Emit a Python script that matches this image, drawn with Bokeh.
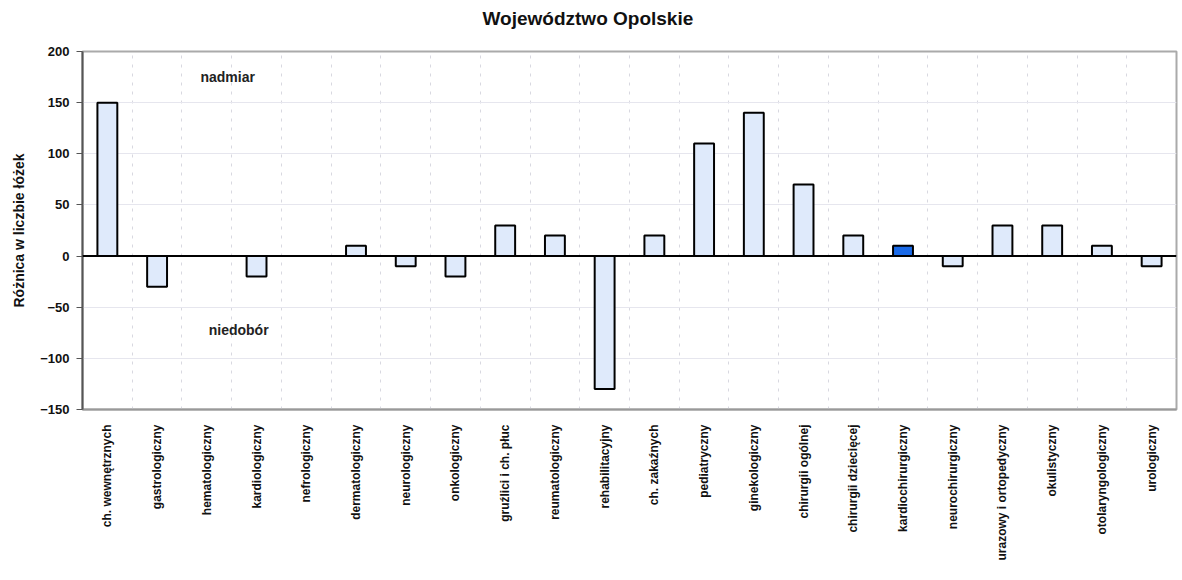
from bokeh.plotting import figure
from bokeh.models import FixedTicker, Range1d, Span, Label, ColumnDataSource, Title
from bokeh.embed import file_html
from bokeh.resources import INLINE
from math import pi

title = "Województwo Opolskie"
categories = ["ch. wewnętrznych", "gastrologiczny", "hematologiczny", "kardiologiczny",
              "nefrologiczny", "dermatologiczny", "neurologiczny", "onkologiczny",
              "gruźlici i ch. płuc", "reumatologiczny", "rehabilitacyjny", "ch. zakaźnych",
              "pediatryczny", "ginekologiczny", "chirurgii ogólnej", "chirurgii dziecięcej",
              "kardiochirurgiczny", "neurochirurgiczny", "urazowy i ortopedyczny",
              "okulistyczny", "otolaryngologiczny", "urologiczny"]
values = [150, -30, 0, -20, 0, 10, -10, -20, 30, 20, -130, 20, 110, 140, 70, 20, 10, -10, 30, 30, 10, -10]
highlight = "kardiochirurgiczny"
y_ticks = [-150, -100, -50, 0, 50, 100, 150, 200]

LIGHT = "#dfeafb"
DARK = "#1a6ae8"
FONT = "Liberation Sans"

xs = list(range(1, len(categories) + 1))
colors = [DARK if c == highlight else LIGHT for c in categories]
src = ColumnDataSource(dict(x=xs, top=values, color=colors))

p = figure(frame_width=1094, frame_height=358, output_backend="svg", toolbar_location=None,
           x_range=Range1d(0.5, len(categories) + 0.5), y_range=Range1d(-150, 200),
           min_border_left=82, min_border_top=0, min_border_right=4, min_border_bottom=10)

# spacer between the title and the plot frame (first item "above" sits next to the frame)
p.add_layout(Title(text=" ", text_font=FONT, text_font_size="12px", standoff=1), "above")
p.add_layout(Title(text=title, align="left", offset=400, standoff=11, text_font=FONT,
                   text_font_size="19px", text_font_style="bold", text_color="#111111"), "above")

p.vbar(x="x", top="top", bottom=0, width=0.40, source=src, fill_color="color",
       line_color="black", line_width=2)

p.add_layout(Span(location=0, dimension="width", line_color="black", line_width=2))

# axes
p.yaxis.ticker = FixedTicker(ticks=y_ticks)
p.yaxis.axis_label = "Różnica w liczbie łóżek"
p.yaxis.axis_label_text_font = FONT
p.yaxis.axis_label_text_font_size = "14px"
p.yaxis.axis_label_text_font_style = "bold"
p.yaxis.axis_label_text_color = "#111111"
p.yaxis.axis_label_standoff = 10
p.yaxis.major_label_standoff = 7
p.yaxis.major_label_text_font = FONT
p.yaxis.major_label_text_font_size = "13px"
p.yaxis.major_label_text_font_style = "bold"
p.yaxis.major_label_text_color = "#111111"
p.yaxis.axis_line_color = "#555555"
p.yaxis.axis_line_width = 2
p.yaxis.major_tick_out = 6
p.yaxis.major_tick_in = 0
p.yaxis.major_tick_line_color = "#555555"
p.yaxis.minor_tick_line_color = None

p.xaxis.ticker = FixedTicker(ticks=xs)
p.xaxis.major_label_overrides = {i: c for i, c in zip(xs, categories)}
p.xaxis.major_label_orientation = pi / 2
p.xaxis.major_label_text_font = FONT
p.xaxis.major_label_text_font_size = "12px"
p.xaxis.major_label_text_font_style = "bold"
p.xaxis.major_label_text_color = "#111111"
p.xaxis.major_label_standoff = 9
p.xaxis.axis_line_color = "#999999"
p.xaxis.axis_line_width = 2
p.xaxis.major_tick_line_color = None
p.xaxis.minor_tick_line_color = None

# grids
p.xgrid.ticker = FixedTicker(ticks=[x + 0.5 for x in xs[:-1]])
p.xgrid.grid_line_color = "#d8d8e0"
p.xgrid.grid_line_dash = "3 6"
p.ygrid.ticker = FixedTicker(ticks=y_ticks)
p.ygrid.grid_line_color = "#e6e6ee"

p.outline_line_color = "#aaaaaa"
p.outline_line_width = 2
p.background_fill_color = "white"

annotations = [("nadmiar", 3.42, 175), ("niedobór", 3.64, -72)]
for text, ax, ay in annotations:
    p.add_layout(Label(x=ax, y=ay, text=text, text_align="center", text_baseline="middle",
                       text_font=FONT, text_font_size="14px",
                       text_font_style="bold", text_color="#222222"))

open("out.html", "w").write(file_html(p, INLINE))
